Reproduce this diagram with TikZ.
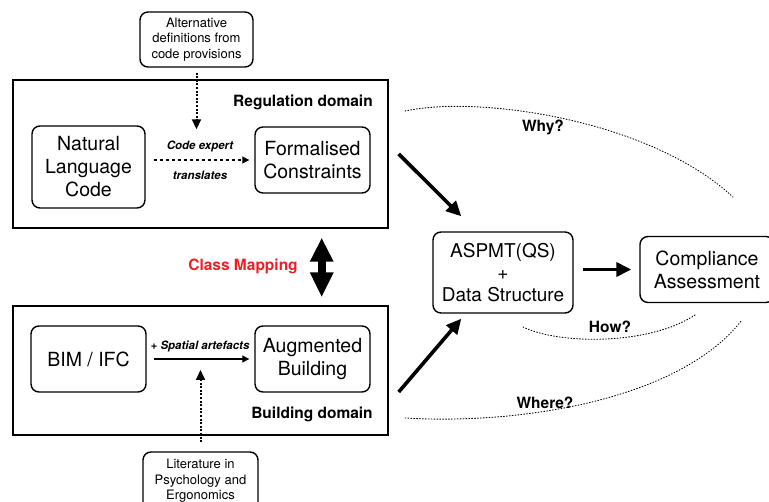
\documentclass[tikz,border=0pt]{standalone}
\usepackage{fontspec}
\setmainfont{TeX Gyre Heros}
\usetikzlibrary{arrows.meta,calc}
\definecolor{mapred}{RGB}{235,32,36}

\begin{document}
\begin{tikzpicture}[x=1pt,y=-1pt,
  box/.style={draw, rounded corners=8pt, line width=1.4pt, align=center, inner sep=0pt},
  domainbox/.style={draw, line width=1.4pt, inner sep=0pt},
  bigtext/.style={font=\fontsize{19.5}{23}\selectfont},
  smalltext/.style={font=\fontsize{13}{15.5}\selectfont},
  lab/.style={font=\fontsize{15.5}{18}\selectfont\bfseries, inner sep=0pt},
  edgelab/.style={font=\fontsize{11.5}{13}\selectfont\bfseries\itshape, inner sep=0pt},
  thinarrow/.style={line width=1.3pt, -{Triangle[length=7pt,width=7pt]}},
  dashedarrow/.style={thinarrow, dash pattern=on 3.5pt off 2.5pt},
  dotarrow/.style={line width=2pt, dash pattern=on 2pt off 1.6pt, -{Triangle[length=10pt,width=9pt]}},
  thickarrow/.style={line width=3.6pt, -{Triangle[length=15pt,width=14pt]}},
  question/.style={line width=0.9pt, dash pattern=on 0.9pt off 2pt, line cap=round}
]
\useasboundingbox (0,0) rectangle (769,502);

% regulation domain
\node[domainbox, minimum width=375pt, minimum height=148pt] (reg) at (200.5,154) {};
\node[lab] (reglab) at (303,102) {Regulation domain};
\node[box, bigtext, minimum width=113pt, minimum height=82pt] (nlc) at (88.5,167) {Natural\\Language\\Code};
\node[box, bigtext, minimum width=115pt, minimum height=66pt] (fc) at (312.5,160) {Formalised\\Constraints};
\node[box, smalltext, minimum width=113pt, minimum height=55pt] (alt) at (196.5,39.5) {Alternative\\definitions from\\code provisions};
\node[edgelab] (cexp) at (200,146) {Code expert};
\node[edgelab] (trans) at (200,175) {translates};
\draw[dashedarrow, shorten <=8pt, shorten >=5pt] (nlc.east |- fc.west) -- (fc.west);
\draw[dotarrow, shorten <=5pt, shorten >=11pt] (alt.south) -- (alt.south |- cexp.north);

% building domain
\node[domainbox, minimum width=375pt, minimum height=129pt] (bld) at (200.5,370.5) {};
\node[lab] (bldlab) at (312,414) {Building domain};
\node[box, bigtext, minimum width=115pt, minimum height=66pt] (bim) at (88.5,359) {BIM / IFC};
\node[box, bigtext, minimum width=115pt, minimum height=66pt] (aug) at (312.5,359) {Augmented\\Building};
\node[box, smalltext, minimum width=115pt, minimum height=58pt] (lit) at (200.5,481) {Literature in\\Psychology and\\Ergonomics};
\node[edgelab] (spa) at (200,346) {+ Spatial artefacts};
\draw[thinarrow, shorten <=7pt, shorten >=5pt] (bim.east) -- (aug.west);
\draw[dotarrow, shorten <=9pt, shorten >=11pt] (lit.north) -- (lit.north |- bim.east);

% class mapping between the two domains
\node[lab, text=mapred] (cmap) at (243,266) {Class Mapping};
\draw[line width=8pt, {Triangle[length=24pt,width=22pt]}-{Triangle[length=25pt,width=22pt]}, shorten <=9pt, shorten >=8pt]
  ($(reg.south east)+(-67,0)$) -- ($(bld.north east)+(-67,0)$);

% reasoning and assessment
\node[box, bigtext, minimum width=140pt, minimum height=81pt, font=\fontsize{19}{22}\selectfont] (asp) at (503,272.5) {ASPMT(QS)\\+\\Data Structure};
\node[box, bigtext, minimum width=134pt, minimum height=66pt] (comp) at (707,269.5) {Compliance\\Assessment};
\draw[thickarrow] ($(reg.east)+(10,0)$) -- ($(asp.north west)+(29,-15)$);
\draw[thickarrow] ($(bld.east)+(10,21.5)$) -- ($(asp.south west)+(29,5)$);
\draw[thickarrow, shorten <=9pt, shorten >=8pt] (asp.east |- comp.west) -- (comp.west);

% questions
\draw[question] (405,111) .. controls (480,95) and (650,120) .. (733,197);
\node[lab] (why) at (543,127) {Why?};
\draw[question] (523,327) .. controls (560,345) and (650,345) .. (695,315);
\node[lab] (how) at (610,327) {How?};
\draw[question] (405,418) .. controls (520,425) and (680,400) .. (742,320);
\node[lab] (where) at (545,403) {Where?};
\end{tikzpicture}
\end{document}
